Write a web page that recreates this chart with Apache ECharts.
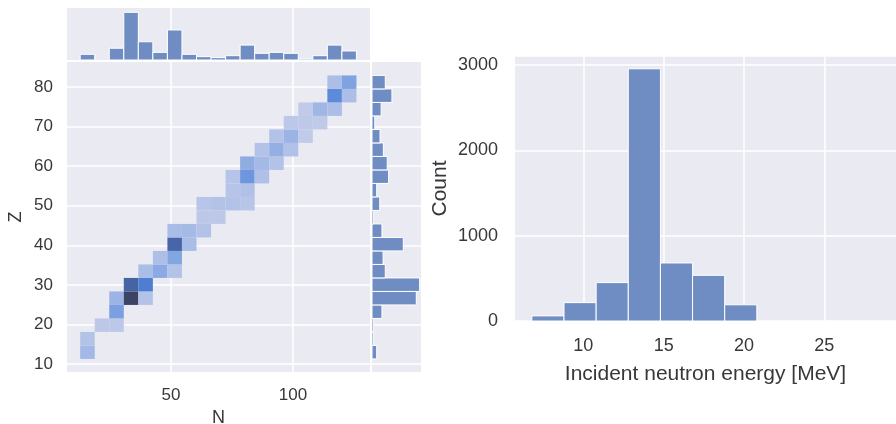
<!DOCTYPE html>
<html>
<head>
<meta charset="utf-8">
<script src="https://cdn.jsdelivr.net/npm/echarts@6/dist/echarts.min.js"></script>
<style>
  html, body { margin: 0; padding: 0; background: #fff; }
  #chart { width: 896px; height: 424px; }
</style>
</head>
<body>
<div id="chart"></div>
<script>
// bins shared by the joint histogram and its marginals
var nBinStart = 12.8, nBinWidth = 5.96;
var zBinStart = 11.3, zBinWidth = 3.41;

// top marginal: count per N bin
var nCounts = [145, 0, 300, 1215, 465, 195, 765, 145, 85, 60, 110, 380, 170, 195, 170, 25, 110, 380, 230];
// right marginal: count per Z bin, lowest Z first
var zCounts = [85, 30, 30, 180, 800, 860, 240, 200, 565, 180, 30, 140, 85, 300, 275, 205, 145, 50, 165, 360, 240];
// joint histogram cells: [N bin, Z bin, count]
var cells = [
  [0, 0, 85], [0, 1, 40], [1, 2, 15], [2, 2, 15], [2, 3, 180], [2, 4, 100],
  [3, 4, 680], [3, 5, 515], [4, 4, 40], [4, 5, 345], [4, 6, 65],
  [5, 6, 140], [5, 7, 55], [6, 6, 40], [6, 7, 160], [6, 8, 500], [6, 9, 65],
  [7, 8, 65], [7, 9, 75], [8, 9, 40], [8, 10, 15], [8, 11, 30],
  [9, 10, 15], [9, 11, 40], [10, 11, 40], [10, 12, 35], [10, 13, 35],
  [11, 11, 30], [11, 12, 50], [11, 13, 215], [11, 14, 130],
  [12, 13, 50], [12, 14, 80], [12, 15, 40], [13, 14, 40], [13, 15, 120], [13, 16, 40],
  [14, 15, 45], [14, 16, 100], [14, 17, 15], [15, 16, 8], [15, 17, 12], [15, 18, 6],
  [16, 17, 10], [16, 18, 90], [17, 18, 60], [17, 19, 260], [17, 20, 60],
  [18, 19, 60], [18, 20, 170]
];
var nTicks = [50, 100];
var zTicks = [10, 20, 30, 40, 50, 60, 70, 80];

// incident neutron energy histogram
var energyEdges = [6.8, 8.8, 10.8, 12.8, 14.8, 16.8, 18.8, 20.8];
var energyCounts = [60, 215, 450, 2955, 680, 535, 190];
var energyTicks = [10, 15, 20, 25];

var panelBg = '#EAEAF2';
var barColor = '#6F8DC3';
var textColor = '#383838';
var font = 'Liberation Sans';

function rectBetween(api, a, b, fill, stroke) {
  var p0 = api.coord(a), p1 = api.coord(b);
  return {
    type: 'rect',
    shape: {
      x: Math.min(p0[0], p1[0]), y: Math.min(p0[1], p1[1]),
      width: Math.abs(p1[0] - p0[0]), height: Math.abs(p1[1] - p0[1])
    },
    style: stroke ? { fill: fill, stroke: stroke, lineWidth: 1 } : { fill: fill }
  };
}

function gridLines() {
  return { show: true, lineStyle: { color: '#fff', width: 1.5 } };
}

function panel(box) {
  box.show = true;
  box.backgroundColor = panelBg;
  box.borderWidth = 0;
  box.containLabel = false;
  box.outerBoundsMode = 'none';
  return box;
}

var chart = echarts.init(document.getElementById('chart'));

chart.setOption({
  animation: false,
  backgroundColor: '#fff',
  grid: [
    panel({ left: 67, top: 62, width: 303, height: 310 }),
    panel({ left: 67, top: 8, width: 303, height: 52 }),
    panel({ left: 372, top: 62, width: 49, height: 310 }),
    panel({ left: 515, top: 56, right: 0, height: 265 })
  ],
  xAxis: [
    {
      gridIndex: 0, type: 'value', min: 7.4, max: 131.6,
      name: 'N', nameLocation: 'middle', nameGap: 35,
      nameTextStyle: { fontSize: 18, color: textColor, fontFamily: font },
      axisLine: { show: false },
      axisTick: { show: false, customValues: nTicks },
      axisLabel: { customValues: nTicks, fontSize: 17, color: textColor, fontFamily: font, margin: 15 },
      splitLine: gridLines()
    },
    {
      gridIndex: 1, type: 'value', min: 7.4, max: 131.6,
      axisLine: { show: false },
      axisTick: { show: false, customValues: nTicks },
      axisLabel: { show: false, customValues: nTicks },
      splitLine: gridLines()
    },
    {
      gridIndex: 2, type: 'value', min: 0, max: 885,
      axisLine: { show: false }, axisTick: { show: false },
      axisLabel: { show: false }, splitLine: { show: false }
    },
    {
      gridIndex: 3, type: 'value', min: 5.75, max: 29.46,
      name: 'Incident neutron energy [MeV]', nameLocation: 'middle', nameGap: 43,
      nameTextStyle: { fontSize: 21, color: textColor, fontFamily: font },
      axisLine: { show: false },
      axisTick: { show: false, customValues: energyTicks },
      axisLabel: { customValues: energyTicks, fontSize: 18, color: textColor, fontFamily: font, margin: 16 },
      splitLine: gridLines()
    }
  ],
  yAxis: [
    {
      gridIndex: 0, type: 'value', min: 8, max: 86.3,
      name: 'Z', nameLocation: 'middle', nameGap: 42,
      nameTextStyle: { fontSize: 18, color: textColor, fontFamily: font },
      axisLine: { show: false },
      axisTick: { show: false, customValues: zTicks },
      axisLabel: { customValues: zTicks, fontSize: 17, color: textColor, fontFamily: font, margin: 14 },
      splitLine: gridLines()
    },
    {
      gridIndex: 1, type: 'value', min: 0, max: 1325,
      axisLine: { show: false }, axisTick: { show: false },
      axisLabel: { show: false }, splitLine: { show: false }
    },
    {
      gridIndex: 2, type: 'value', min: 8, max: 86.3,
      axisLine: { show: false },
      axisTick: { show: false, customValues: zTicks },
      axisLabel: { show: false, customValues: zTicks },
      splitLine: gridLines()
    },
    {
      gridIndex: 3, type: 'value', min: 0, max: 3105, interval: 1000,
      name: 'Count', nameLocation: 'middle', nameGap: 64,
      nameTextStyle: { fontSize: 21, color: textColor, fontFamily: font },
      axisLine: { show: false }, axisTick: { show: false },
      axisLabel: {
        fontSize: 18, color: textColor, fontFamily: font, margin: 17,
        formatter: function (v) { return String(v); }
      },
      splitLine: gridLines()
    }
  ],
  visualMap: {
    show: false, type: 'continuous', seriesIndex: 0, dimension: 2,
    min: 0, max: 680,
    inRange: {
      color: ['#C3CCE9', '#A2B8E6', '#7FA2E1', '#5E8CDC', '#4F7ED3', '#4A71BD', '#4665A6', '#42558A', '#3B4464']
    }
  },
  series: [
    {
      type: 'custom', xAxisIndex: 0, yAxisIndex: 0, clip: true,
      data: cells,
      renderItem: function (params, api) {
        var i = api.value(0), j = api.value(1);
        var c = api.visual('color');
        return rectBetween(api,
          [nBinStart + i * nBinWidth, zBinStart + (j + 1) * zBinWidth],
          [nBinStart + (i + 1) * nBinWidth, zBinStart + j * zBinWidth], c);
      }
    },
    {
      type: 'custom', xAxisIndex: 1, yAxisIndex: 1, clip: true,
      data: nCounts.map(function (v, i) { return [i, v]; }),
      renderItem: function (params, api) {
        var i = api.value(0), v = api.value(1);
        if (!v) return null;
        return rectBetween(api,
          [nBinStart + i * nBinWidth, v],
          [nBinStart + (i + 1) * nBinWidth, 0], barColor, '#fff');
      }
    },
    {
      type: 'custom', xAxisIndex: 2, yAxisIndex: 2, clip: true,
      data: zCounts.map(function (v, j) { return [j, v]; }),
      renderItem: function (params, api) {
        var j = api.value(0), v = api.value(1);
        if (!v) return null;
        return rectBetween(api,
          [0, zBinStart + (j + 1) * zBinWidth],
          [v, zBinStart + j * zBinWidth], barColor, '#fff');
      }
    },
    {
      type: 'custom', xAxisIndex: 3, yAxisIndex: 3, clip: true,
      data: energyCounts.map(function (v, k) { return [k, v]; }),
      renderItem: function (params, api) {
        var k = api.value(0), v = api.value(1);
        return rectBetween(api,
          [energyEdges[k], v],
          [energyEdges[k + 1], 0], barColor, '#fff');
      }
    }
  ]
});
</script>
</body>
</html>
